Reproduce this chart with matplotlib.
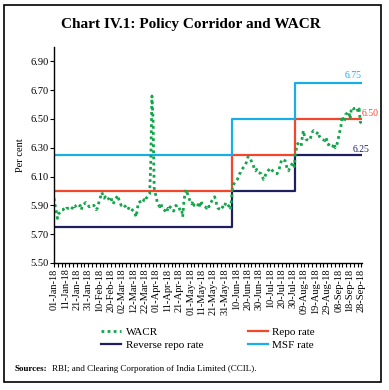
import numpy as np
import pandas as pd
import matplotlib
matplotlib.use('Agg')
import matplotlib.pyplot as plt
import matplotlib.dates as mdates
from matplotlib.patches import Rectangle

plt.rcParams['font.family'] = ['Liberation Serif', 'DejaVu Serif']

# WACR, business days, month by month (per cent)
wacr_jan = [5.95, 5.90, 5.86, 5.81, 5.84, 5.87, 5.87, 5.88, 5.87, 5.88, 5.88, 5.89,
            5.88, 5.90, 5.89, 5.91, 5.90, 5.90, 5.87, 5.90, 5.92, 5.91, 5.90]
wacr_feb = [5.89, 5.90, 5.90, 5.89, 5.87, 5.88, 5.91, 5.99, 5.97, 5.95, 5.96, 5.94,
            5.95, 5.96, 5.92, 5.91, 5.93, 5.97, 5.94, 5.92]
wacr_mar = [5.90, 5.91, 5.89, 5.88, 5.87, 5.89, 5.88, 5.86, 5.85, 5.82, 5.86, 5.92,
            5.93, 5.92, 5.94, 5.93, 5.95, 5.98, 6.20, 6.66, 6.50, 6.02]
wacr_apr = [5.91, 5.90, 5.89, 5.91, 5.88, 5.86, 5.85, 5.88, 5.87, 5.89, 5.86, 5.88,
            5.90, 5.89, 5.87, 5.88, 5.82, 5.92, 5.98, 6.01, 5.94]
wacr_may = [5.92, 5.91, 5.93, 5.90, 5.89, 5.92, 5.90, 5.93, 5.91, 5.89, 5.88, 5.90,
            5.89, 5.91, 5.95, 5.96, 5.94, 5.90, 5.88, 5.87, 5.89, 5.88, 5.90]
wacr_jun = [5.92, 5.89, 5.87, 5.95, 6.03, 6.05, 6.08, 6.10, 6.12, 6.13, 6.15, 6.18,
            6.20, 6.23, 6.24, 6.23, 6.18, 6.15, 6.14, 6.15, 6.13]
wacr_jul = [6.12, 6.10, 6.08, 6.09, 6.12, 6.15, 6.16, 6.15, 6.14, 6.13, 6.12, 6.14,
            6.16, 6.19, 6.22, 6.21, 6.18, 6.15, 6.14, 6.16, 6.20, 6.17]
wacr_aug = [6.26, 6.30, 6.33, 6.31, 6.37, 6.42, 6.38, 6.36, 6.35, 6.36, 6.39, 6.41,
            6.42, 6.40, 6.41, 6.38, 6.37, 6.36, 6.35, 6.37, 6.34, 6.32, 6.33]
wacr_sep = [6.31, 6.33, 6.30, 6.31, 6.34, 6.45, 6.52, 6.49, 6.48, 6.53, 6.55, 6.50,
            6.56, 6.58, 6.57, 6.58, 6.55, 6.57, 6.48, 6.47]

# policy rates (step changes on 06-Jun-18 and 01-Aug-18)
policy_dates = ['2018-01-01', '2018-06-06', '2018-08-01', '2018-09-28']
repo = [6.00, 6.25, 6.50, 6.50]
reverse_repo = [5.75, 6.00, 6.25, 6.25]
msf = [6.25, 6.50, 6.75, 6.75]

wacr = wacr_jan + wacr_feb + wacr_mar + wacr_apr + wacr_may + wacr_jun + wacr_jul + wacr_aug + wacr_sep
wacr_dates = pd.bdate_range('2018-01-01', '2018-09-28')
pdates = pd.to_datetime(policy_dates)

c_wacr = '#12a54a'
c_repo = '#f2472b'
c_rev = '#1f1f5e'
c_msf = '#19aee8'

fig = plt.figure(figsize=(3.89, 3.90), dpi=100, facecolor='w')
fig.patches.append(Rectangle((4/389, 8/390), 377/389, 377/390, transform=fig.transFigure,
                             fill=False, ec='k', lw=1.2))
ax = fig.add_axes([54/389, 127/390, 308/389, 216/390])

ax.step(pdates, reverse_repo, where='post', c=c_rev, lw=1.6, label='Reverse repo rate')
ax.step(pdates, repo, where='post', c=c_repo, lw=1.6, label='Repo rate')
ax.step(pdates, msf, where='post', c=c_msf, lw=1.6, label='MSF rate')
ax.plot(wacr_dates, wacr, c=c_wacr, ls=(0, (1, 1.2)), lw=2.0, label='WACR')

ax.text(pd.Timestamp('2018-09-28'), 6.77, '6.75', color=c_msf, fontsize=7, ha='right', va='bottom')
ax.text(pd.Timestamp('2018-09-28'), 6.51, '6.50', color=c_repo, fontsize=7, ha='left', va='bottom')
ax.text(pd.Timestamp('2018-09-28'), 6.26, '6.25', color=c_rev, fontsize=7, ha='center', va='bottom')

x0 = pd.Timestamp('2018-01-01')
x1 = pd.Timestamp('2018-09-28')
ax.set_xlim(x0, x1 + pd.Timedelta(days=0.5))
ax.set_ylim(5.5, 7.0)
ax.set_yticks(np.arange(5.5, 6.95, 0.2))
ax.yaxis.set_major_formatter(plt.FormatStrFormatter('%.2f'))
major = pd.date_range(x0, x1, freq='10D')
ax.set_xticks(major)
ax.set_xticklabels([d.strftime('%d-%b-%y') for d in major], rotation=90, fontsize=7.5)
minor = mdates.date2num(x0) + np.arange(0, 271, 10 / 3)
ax.set_xticks(minor, minor=True)
ax.tick_params(axis='x', which='both', length=3, width=0.8, pad=1)
ax.tick_params(axis='y', length=3, width=0.8, labelsize=7.5, pad=1)
for s in ['top', 'right']:
    ax.spines[s].set_visible(False)
ax.spines['left'].set_linewidth(1.0)
ax.spines['bottom'].set_linewidth(1.0)
ax.set_ylabel('Per cent', fontsize=7.5, labelpad=4)

fig.text(0.49, 0.938, 'Chart IV.1: Policy Corridor and WACR', ha='center', va='center',
         fontsize=11, fontweight='bold')

h, l = ax.get_legend_handles_labels()
order = [3, 0, 1, 2]
fig.legend([h[i] for i in order], [l[i] for i in order], loc='center', ncol=2,
           bbox_to_anchor=(0.535, 0.131), frameon=False, fontsize=8, columnspacing=4.0,
           handlelength=1.8, handletextpad=0.4, labelspacing=0.3)

fig.text(15/389, 0.053, 'Sources:', fontsize=6.5, fontweight='bold', va='center')
fig.text(52/389, 0.053, 'RBI; and Clearing Corporation of India Limited (CCIL).', fontsize=6.5, va='center')

fig.savefig('out.png', dpi=100)
